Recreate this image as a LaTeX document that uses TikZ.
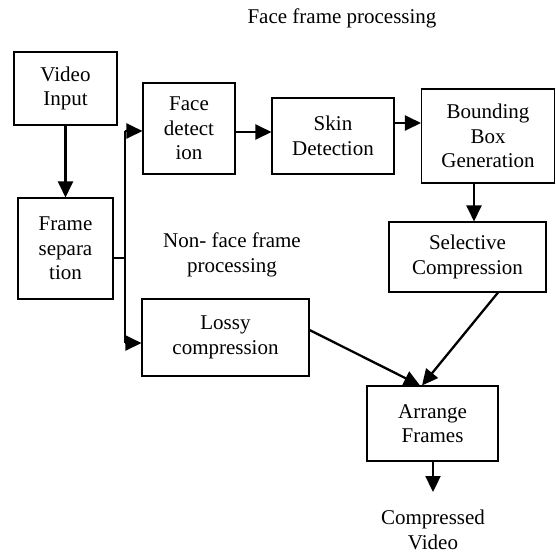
\documentclass[tikz,border=0pt]{standalone}
\usepackage{fontspec}
\setmainfont{Liberation Serif}
\usetikzlibrary{arrows.meta}
\begin{document}
\begin{tikzpicture}[x=1pt,y=-1pt,
  blk/.style={draw=black,line width=1.1pt,rectangle,inner sep=0pt,align=center,
    font=\fontsize{21}{24.5}\selectfont},
  lbl/.style={align=center,inner sep=0pt,font=\fontsize{21}{24.5}\selectfont},
  arr/.style={line width=2.3pt,-{Triangle[length=16pt,width=15pt]}},
  ln/.style={line width=2.3pt}]
\useasboundingbox (0,0) rectangle (556,555);
\node[blk,minimum width=103pt,minimum height=73pt] (vi) at (65.5,88.5) {Video\\Input};
\node[blk,minimum width=95pt,minimum height=101pt] (fs) at (65.5,248.5) {Frame\\separa\\tion};
\node[blk,minimum width=92pt,minimum height=91pt] (fd) at (189,128.5) {Face\\detect\\ion};
\node[blk,minimum width=122pt,minimum height=76pt] (sd) at (333,136) {Skin\\Detection};
\node[blk,minimum width=133pt,minimum height=94pt] (bb) at (488,136) {Bounding\\Box\\Generation};
\node[blk,minimum width=157pt,minimum height=70pt] (sc) at (467.5,257) {Selective\\Compression};
\node[blk,minimum width=167pt,minimum height=77pt] (lc) at (225.5,337.5) {Lossy\\compression};
\node[blk,minimum width=131pt,minimum height=75pt] (af) at (432.5,423.5) {Arrange\\Frames};
\node[lbl] (t1) at (342,18) {Face frame processing};
\node[lbl] (t2) at (232,255) {Non- face frame\\processing};
\node[lbl] (t3) at (433,530) {Compressed\\Video};
\coordinate (jt) at (125,131);
\coordinate (jm) at (125,258);
\coordinate (jb) at (125,343);
\coordinate (out) at (433,492);
\draw[arr] (vi.south) -- (fs.north);
\draw[ln] (fs.east |- jm) -- (jm);
\draw[ln] (jt) -- (jb);
\draw[arr] (jt) -- (jt -| fd.west);
\draw[arr] (jb) -- (jb -| lc.west);
\draw[arr] (fd.east |- 0,132) -- (sd.west |- 0,132);
\draw[arr] (sd.east |- 0,123) -- (bb.west |- 0,123);
\draw[arr] (bb.south -| 474,0) -- (sc.north -| 474,0);
\draw[arr] (lc.east |- 0,330) -- (af.north -| 420,0);
\draw[arr] (sc.south -| 498,0) -- (af.north -| 422,0);
\draw[arr] (af.south -| out) -- (out);
\end{tikzpicture}
\end{document}
